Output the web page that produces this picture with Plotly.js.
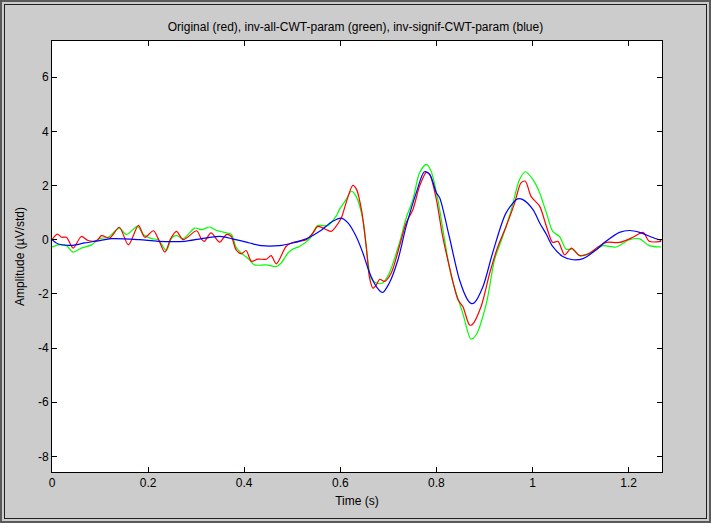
<!DOCTYPE html>
<html>
<head>
<meta charset="utf-8">
<script src="https://cdn.plot.ly/plotly-3.0.1.min.js"></script>
<style>
html,body{margin:0;padding:0;background:#cccccc;}
#frame{position:absolute;left:0;top:0;width:707px;height:519px;border:2px solid #5a5a5a;background:#cccccc;}
#inner{position:absolute;left:2px;top:2px;width:701px;height:513px;border:1px solid #202020;}
#chart{position:absolute;left:0;top:0;width:711px;height:523px;}
</style>
</head>
<body>
<div id="frame"><div id="inner"></div></div>
<div id="chart"></div>
<script>
// Original (red)
var redT = [0.000,0.011,0.020,0.030,0.044,0.061,0.075,0.093,0.103,0.120,0.140,0.159,0.180,0.193,0.211,0.221,0.235,0.247,0.259,0.273,0.301,0.311,0.317,0.331,0.349,0.363,0.373,0.383,0.394,0.404,0.415,0.428,0.446,0.456,0.467,0.487,0.498,0.515,0.529,0.543,0.553,0.571,0.581,0.591,0.602,0.612,0.626,0.634,0.644,0.654,0.661,0.668,0.675,0.682,0.692,0.706,0.723,0.737,0.751,0.765,0.779,0.786,0.800,0.813,0.827,0.845,0.855,0.869,0.875,0.893,0.911,0.928,0.945,0.963,0.976,0.985,0.997,1.015,1.029,1.042,1.053,1.067,1.081,1.098,1.119,1.136,1.153,1.181,1.209,1.230,1.243,1.268];
var redY = [0.00,0.21,0.09,0.09,-0.31,0.12,-0.03,-0.03,0.15,0.06,0.46,-0.19,0.53,0.09,0.33,0.04,-0.46,0.04,0.31,0.00,0.33,0.02,-0.06,0.25,-0.09,0.19,0.12,-0.37,-0.52,-0.40,-0.80,-0.72,-0.72,-0.59,-0.89,-0.25,-0.12,-0.06,0.00,0.25,0.49,0.37,0.31,0.49,0.80,1.36,2.01,1.85,1.11,-0.25,-1.42,-1.79,-1.67,-1.46,-1.54,-1.23,-0.25,0.62,1.11,1.98,2.49,2.41,1.48,0.12,-0.99,-2.22,-2.47,-3.15,-3.13,-2.47,-1.23,-0.25,0.49,1.36,2.10,2.16,1.60,1.23,0.49,-0.10,-0.06,-0.56,-0.31,-0.59,-0.49,-0.27,-0.10,-0.10,0.09,0.27,-0.06,-0.06];
// inv-all-CWT-param (green)
var greenT = [0.000,0.013,0.030,0.044,0.061,0.082,0.099,0.117,0.140,0.155,0.178,0.190,0.207,0.221,0.238,0.249,0.259,0.273,0.297,0.311,0.328,0.340,0.363,0.373,0.383,0.394,0.411,0.421,0.446,0.467,0.477,0.491,0.501,0.515,0.536,0.553,0.574,0.591,0.598,0.612,0.623,0.633,0.647,0.657,0.664,0.675,0.688,0.702,0.723,0.737,0.751,0.765,0.779,0.789,0.803,0.817,0.831,0.855,0.872,0.883,0.904,0.921,0.938,0.956,0.973,0.985,1.001,1.015,1.022,1.029,1.042,1.056,1.070,1.084,1.098,1.112,1.126,1.146,1.174,1.202,1.223,1.243,1.268];
var greenY = [-0.27,-0.19,-0.22,-0.46,-0.31,-0.19,0.04,0.09,0.43,0.19,0.49,0.19,0.04,0.00,-0.40,0.06,0.16,0.04,0.43,0.37,0.47,0.36,0.25,0.20,-0.27,-0.49,-0.74,-0.93,-0.93,-0.99,-0.86,-0.49,-0.35,-0.25,0.03,0.52,0.52,0.86,1.11,1.48,1.79,1.60,0.74,-0.74,-1.42,-1.60,-1.60,-1.23,-0.12,0.80,1.48,2.47,2.78,2.53,1.48,0.00,-1.36,-2.72,-3.67,-3.50,-2.35,-0.74,0.12,1.11,2.22,2.51,2.22,1.73,1.36,0.99,0.31,0.12,-0.35,-0.35,-0.58,-0.56,-0.43,-0.22,-0.27,0.00,0.03,-0.22,-0.27];
// inv-signif-CWT-param (blue)
var blueT = [0.000,0.013,0.041,0.068,0.096,0.124,0.182,0.221,0.276,0.311,0.349,0.376,0.411,0.435,0.473,0.501,0.529,0.557,0.584,0.602,0.616,0.633,0.647,0.661,0.675,0.688,0.702,0.720,0.737,0.758,0.775,0.786,0.800,0.807,0.827,0.848,0.865,0.872,0.879,0.897,0.917,0.945,0.969,0.980,1.001,1.015,1.029,1.042,1.063,1.084,1.105,1.133,1.153,1.181,1.202,1.223,1.247,1.268];
var blueY = [0.00,-0.16,-0.21,-0.12,-0.04,0.04,0.00,-0.06,-0.06,0.04,0.12,0.03,-0.12,-0.22,-0.22,-0.12,0.03,0.31,0.68,0.80,0.62,0.12,-0.49,-1.23,-1.73,-1.95,-1.60,-0.74,0.49,1.73,2.51,2.41,1.73,1.54,0.10,-1.48,-2.22,-2.35,-2.33,-1.73,-0.49,0.99,1.51,1.48,1.11,0.62,0.19,-0.25,-0.62,-0.74,-0.70,-0.37,-0.06,0.27,0.34,0.27,0.10,-0.03];

var xTicks = [0,0.2,0.4,0.6,0.8,1,1.2];
var xTickText = ['0','0.2','0.4','0.6','0.8','1','1.2'];
var yTicks = [-8,-6,-4,-2,0,2,4,6];
var yTickText = ['-8','-6','-4','-2','0','2','4','6'];

function tr(x,y,c){
  return {x:x,y:y,type:'scatter',mode:'lines',line:{color:c,width:1.2,shape:'spline',smoothing:0.8},hoverinfo:'skip',showlegend:false};
}
var data = [tr(greenT,greenY,'#00ff00'), tr(redT,redY,'#ff0000'), tr(blueT,blueY,'#0000ff')];

var fam = 'Liberation Sans, Arial, sans-serif';
var f12 = {family:fam, size:12, color:'#000'};
var layout = {
  width:711, height:523,
  paper_bgcolor:'rgba(0,0,0,0)', plot_bgcolor:'#ffffff',
  margin:{l:52,r:49,t:41,b:51,pad:0},
  font:f12,
  title:{text:'Original (red), inv-all-CWT-param (green), inv-signif-CWT-param (blue)', font:f12, x:0.5, xanchor:'center', y:1-27/523, yanchor:'middle'},
  xaxis:{range:[0,1.2695], tickvals:xTicks, ticktext:xTickText, ticks:'inside', ticklen:5, tickcolor:'#000', showline:true, linecolor:'#000', linewidth:1, mirror:'ticks', showgrid:false, zeroline:false,
    title:{text:'Time (s)', font:f12, standoff:7}, tickfont:f12},
  yaxis:{range:[-8.58,7.34], tickvals:yTicks, ticktext:yTickText, ticks:'inside', ticklen:5, tickcolor:'#000', showline:true, linecolor:'#000', linewidth:1, mirror:'ticks', showgrid:false, zeroline:false,
    title:{text:'Amplitude (µV/std)', font:f12, standoff:10}, tickfont:f12}
};
Plotly.newPlot('chart', data, layout, {staticPlot:true, displayModeBar:false});
</script>
</body>
</html>
